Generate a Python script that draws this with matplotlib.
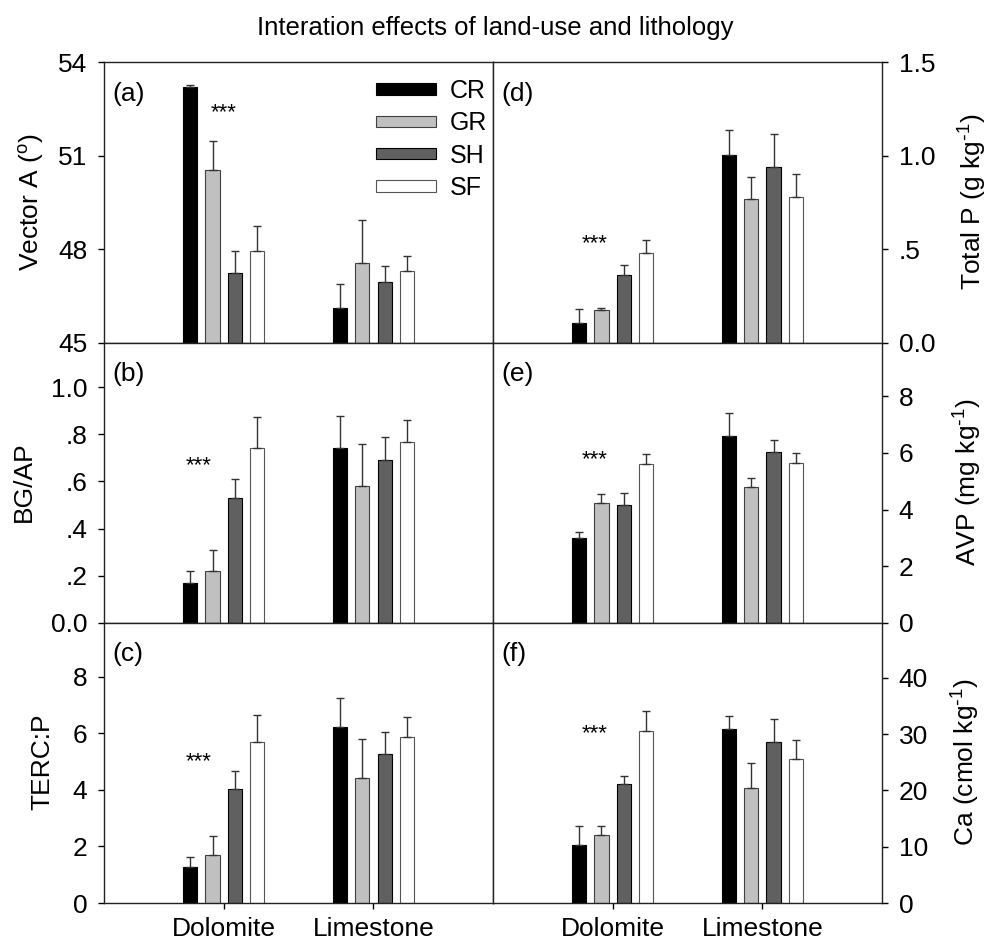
import numpy as np
import matplotlib
matplotlib.use('Agg')
import matplotlib.pyplot as plt

plt.rcParams['font.family'] = ['Liberation Sans', 'DejaVu Sans']
plt.rcParams['mathtext.default'] = 'regular'

# Data: rows = lithology (Dolomite, Limestone), cols = land use (CR, GR, SH, SF)
lithology = ['Dolomite', 'Limestone']
landuse = ['CR', 'GR', 'SH', 'SF']

vector_a = [[53.22, 50.55, 47.22, 47.95], [46.12, 47.54, 46.95, 47.29]]
vector_a_se = [[0.05, 0.92, 0.71, 0.78], [0.77, 1.41, 0.52, 0.50]]

bg_ap = [[0.170, 0.222, 0.528, 0.744], [0.743, 0.579, 0.690, 0.768]]
bg_ap_se = [[0.052, 0.089, 0.082, 0.130], [0.134, 0.179, 0.101, 0.092]]

terc_p = [[1.27, 1.69, 4.04, 5.68], [6.21, 4.41, 5.28, 5.87]]
terc_p_se = [[0.37, 0.69, 0.62, 0.98], [1.02, 1.40, 0.76, 0.69]]

total_p = [[0.107, 0.176, 0.363, 0.477], [1.003, 0.768, 0.939, 0.777]]
total_p_se = [[0.075, 0.009, 0.050, 0.070], [0.132, 0.117, 0.176, 0.123]]

avp = [[3.00, 4.24, 4.16, 5.60], [6.61, 4.81, 6.02, 5.65]]
avp_se = [[0.20, 0.30, 0.42, 0.36], [0.80, 0.30, 0.43, 0.34]]

ca = [[10.34, 12.11, 21.09, 30.54], [30.89, 20.50, 28.65, 25.64]]
ca_se = [[3.30, 1.59, 1.53, 3.60], [2.42, 4.43, 4.13, 3.36]]

# tick values / labels
ticks_a = [45, 48, 51, 54]
ticks_b = [0.0, 0.2, 0.4, 0.6, 0.8, 1.0]
labels_b = ['0.0', '.2', '.4', '.6', '.8', '1.0']
ticks_c = [0, 2, 4, 6, 8]
ticks_d = [0.0, 0.5, 1.0, 1.5]
labels_d = ['0.0', '.5', '1.0', '1.5']
ticks_e = [0, 2, 4, 6, 8]
ticks_f = [0, 10, 20, 30, 40]

colors = ['black', '#c0c0c0', '#606060', 'white']
edges = ['black', '#404040', 'black', '#555555']

fig, axes = plt.subplots(3, 2, figsize=(9.91, 9.44), dpi=100)
fig.subplots_adjust(left=0.105, right=0.89, top=0.934, bottom=0.0434,
                    hspace=0, wspace=0)

panels = [
    (axes[0, 0], vector_a, vector_a_se, (45, 54), ticks_a, None, '(a)', (0.0, 52.2)),
    (axes[1, 0], bg_ap, bg_ap_se, (0, 1.19), ticks_b, labels_b, '(b)', (-0.165, 0.645)),
    (axes[2, 0], terc_p, terc_p_se, (0, 9.9), ticks_c, None, '(c)', (-0.165, 4.8)),
    (axes[0, 1], total_p, total_p_se, (0, 1.5), ticks_d, labels_d, '(d)', (-0.12, 0.5)),
    (axes[1, 1], avp, avp_se, (0, 9.9), ticks_e, None, '(e)', (-0.12, 5.57)),
    (axes[2, 1], ca, ca_se, (0, 49.8), ticks_f, None, '(f)', (-0.12, 29.2)),
]

x = np.arange(len(lithology))
w = 0.094
step = 0.15

for ax, mean, se, ylim, ticks, tlabels, tag, star in panels:
    mean = np.array(mean)
    se = np.array(se)
    for i in range(len(landuse)):
        pos = x + (i - 1.5) * step
        ax.bar(pos, mean[:, i], w, color=colors[i], edgecolor=edges[i],
               linewidth=0.8, label=landuse[i])
        ax.errorbar(pos, mean[:, i], yerr=[np.zeros(2), se[:, i]], fmt='none',
                    ecolor='#333333', elinewidth=1, capsize=3.2, capthick=1)
    ax.set_xlim(-0.8, 1.8)
    ax.set_ylim(*ylim)
    ax.set_yticks(ticks)
    if tlabels is not None:
        ax.set_yticklabels(tlabels)
    ax.tick_params(axis='y', direction='out', length=4, width=1, pad=8, labelsize=19)
    ax.tick_params(axis='x', direction='out', length=4, width=1, pad=6, labelsize=19)
    for s in ax.spines.values():
        s.set_linewidth(1)
        s.set_color('#222222')
    ax.text(0.022, 0.93, tag, transform=ax.transAxes, ha='left', va='top', fontsize=19)
    ax.text(star[0], star[1], '***', ha='center', va='baseline', fontsize=16)

for ax in axes[:, 1]:
    ax.yaxis.tick_right()

for ax in axes[:2, :].ravel():
    ax.set_xticks([])
for ax in axes[2, :]:
    ax.set_xticks(x)
    ax.set_xticklabels(lithology)

axes[0, 0].legend(loc='upper left', bbox_to_anchor=(0.7, 0.94), frameon=False,
                  fontsize=18, handlelength=2.4, handleheight=0.33,
                  labelspacing=0.33, handletextpad=0.55, borderpad=0,
                  borderaxespad=0)

# axis titles
fig.text(31 / 991, 1 - 202 / 944, 'Vector A ($^{o}$)', rotation=90, ha='center', va='center', fontsize=19)
fig.text(24 / 991, 1 - 482 / 944, 'BG/AP', rotation=90, ha='center', va='center', fontsize=19)
fig.text(42 / 991, 1 - 762 / 944, 'TERC:P', rotation=90, ha='center', va='center', fontsize=19)
fig.text(973 / 991, 1 - 202 / 944, r'Total P (g kg$^{\text{-}1}$)', rotation=90, ha='center', va='center', fontsize=19)
fig.text(968 / 991, 1 - 482 / 944, r'AVP (mg kg$^{\text{-}1}$)', rotation=90, ha='center', va='center', fontsize=19)
fig.text(966 / 991, 1 - 762 / 944, r'Ca (cmol kg$^{\text{-}1}$)', rotation=90, ha='center', va='center', fontsize=19)

fig.suptitle('Interation effects of land-use and lithology', y=1 - 28 / 944,
             va='center', fontsize=18.5)

fig.savefig('out.png', dpi=100)
